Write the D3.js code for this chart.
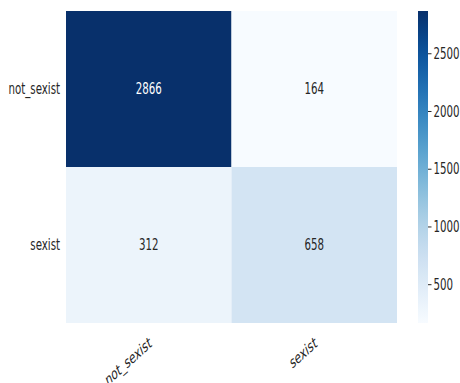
<!DOCTYPE html>
<html><head><meta charset="utf-8">
<script src="https://cdn.jsdelivr.net/npm/d3@7"></script>
<style>body{margin:0;background:#fff}text{font-family:"DejaVu Sans",sans-serif;fill:#262626}</style>
</head><body><svg id="c" width="460" height="383"></svg>
<script>
const rowLabels = ["not_sexist", "sexist"];
const colLabels = ["not_sexist", "sexist"];
const values = [[2866, 164], [312, 658]];
const cbTicks = [500, 1000, 1500, 2000, 2500];

(function () {
const svg = d3.select("#c");
const mLeft = 66, mRight = 397, mTop = 11, mBottom = 323;
const sx = 0.64, fs = 16;
const x = d3.scaleBand().domain(colLabels).range([mLeft, mRight]);
const y = d3.scaleBand().domain(rowLabels).range([mTop, mBottom]);
const flat = values.flat();
const vmin = d3.min(flat), vmax = d3.max(flat);
const color = d3.scaleSequential(d3.interpolateBlues).domain([vmin, vmax]);

const cells = [];
rowLabels.forEach((r, i) => colLabels.forEach((c, j) => cells.push({r, c, v: values[i][j]})));

svg.selectAll("rect.cell").data(cells).join("rect").attr("class", "cell")
  .attr("x", d => x(d.c)).attr("y", d => y(d.r))
  .attr("width", x.bandwidth()).attr("height", y.bandwidth())
  .attr("fill", d => color(d.v));

svg.selectAll("text.val").data(cells).join("text").attr("class", "val")
  .attr("transform", d => `translate(${x(d.c) + x.bandwidth() / 2},${y(d.r) + y.bandwidth() / 2}) scale(${sx},1)`)
  .attr("text-anchor", "middle").attr("dominant-baseline", "central")
  .attr("font-size", fs)
  .style("fill", d => (d.v - vmin) / (vmax - vmin) > 0.5 ? "#ffffff" : "#262626")
  .text(d => d.v);

svg.selectAll("text.ylab").data(rowLabels).join("text").attr("class", "ylab")
  .attr("transform", d => `translate(${mLeft - 6},${y(d) + y.bandwidth() / 2}) scale(${sx},1)`)
  .attr("text-anchor", "end").attr("dominant-baseline", "central")
  .attr("font-size", fs).text(d => d);

svg.selectAll("text.xlab").data(colLabels).join("text").attr("class", "xlab")
  .attr("transform", d => `translate(${x(d) + x.bandwidth() / 2},${mBottom + 13}) scale(${sx},1) rotate(-30)`)
  .attr("text-anchor", "end").attr("dominant-baseline", "hanging")
  .attr("font-size", fs).text(d => d);

const cbX = 418, cbW = 10;
const cy = d3.scaleLinear().domain([vmin, vmax]).range([mBottom, mTop]);
const defs = svg.append("defs");
const grad = defs.append("linearGradient").attr("id", "g").attr("x1", 0).attr("y1", 1).attr("x2", 0).attr("y2", 0);
d3.range(0, 1.0001, 0.05).forEach(t => grad.append("stop").attr("offset", t).attr("stop-color", d3.interpolateBlues(t)));
svg.append("rect").attr("x", cbX).attr("y", mTop).attr("width", cbW).attr("height", mBottom - mTop).attr("fill", "url(#g)");
const ax = svg.append("g").attr("transform", `translate(${cbX + cbW},0)`)
  .call(d3.axisRight(cy).tickValues(cbTicks).tickFormat(d3.format("d")).tickSize(3.5).tickPadding(2));
ax.select(".domain").remove();
ax.selectAll("line").attr("stroke", "#262626");
ax.selectAll("text")
  .attr("transform", function () { return `translate(${+this.getAttribute("x")},0) scale(${sx},1)`; })
  .attr("x", 0)
  .attr("font-size", fs).style("font-family", '"DejaVu Sans",sans-serif').style("fill", "#262626");
})();
</script></body></html>
